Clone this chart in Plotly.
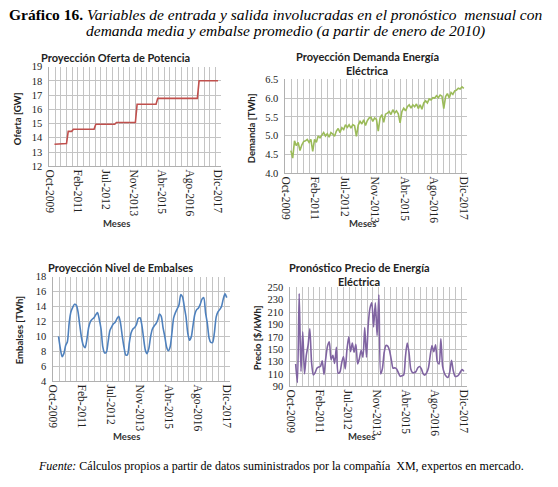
import plotly.graph_objects as go

# mes 0 = enero 2010 ... mes 95 = diciembre 2017
meses = list(range(96))

etiquetas_x = ["Oct-2009", "Feb-2011", "Jul-2012", "Nov-2013",
               "Abr-2015", "Ago-2016", "Dic-2017"]

oferta_gw = [
    13.55, 13.55, 13.55, 13.55, 13.6, 13.6, 13.6, 13.6, 14.45, 14.45, 14.45, 14.6,
    14.6, 14.6, 14.6, 14.6, 14.6, 14.6, 14.6, 14.6, 14.6, 14.6, 14.6, 14.6,
    14.95, 14.95, 14.95, 14.95, 14.95, 14.95, 14.95, 14.95, 14.95, 14.95, 14.95, 14.95,
    15.07, 15.07, 15.07, 15.07, 15.07, 15.07, 15.07, 15.07, 15.07, 15.07, 15.07, 15.07,
    16.35, 16.35, 16.35, 16.35, 16.35, 16.35, 16.35, 16.35, 16.35, 16.35, 16.35, 16.35,
    16.77, 16.77, 16.77, 16.77, 16.77, 16.77, 16.77, 16.77, 16.77, 16.77, 16.77, 16.77,
    16.77, 16.77, 16.77, 16.77, 16.77, 16.77, 16.77, 16.77, 16.77, 16.77, 16.77, 16.77,
    18.0, 18.0, 18.0, 18.0, 18.0, 18.0, 18.0, 18.0, 18.0, 18.0, 18.0, 18.0,
]

demanda_twh = [
    4.60, 4.40, 4.86, 4.73, 4.82, 4.60, 4.75, 4.84, 4.86, 4.90, 4.82, 4.90,
    4.58, 4.90, 4.82, 4.99, 4.94, 5.02, 5.08, 4.99, 5.05, 4.96, 5.08, 5.04,
    4.98, 5.12, 5.19, 5.08, 5.21, 5.16, 5.29, 5.22, 5.29, 5.20, 5.29, 5.26,
    4.98, 5.28, 5.38, 5.31, 5.42, 5.27, 5.40, 5.47, 5.49, 5.38, 5.47, 5.43,
    5.12, 5.47, 5.56, 5.35, 5.57, 5.60, 5.64, 5.56, 5.69, 5.60, 5.66, 5.58,
    5.34, 5.64, 5.73, 5.66, 5.77, 5.82, 5.73, 5.82, 5.77, 5.84, 5.72, 5.82,
    5.70, 5.87, 5.93, 5.87, 5.98, 5.95, 6.01, 6.00, 6.06, 6.01, 6.08, 6.05,
    5.72, 6.04, 6.12, 6.00, 6.15, 6.10, 6.19, 6.21, 6.26, 6.24, 6.30, 6.26,
]

embalses_twh = [
    10.0, 8.4, 7.3, 7.7, 8.8, 9.3, 11.8, 13.3, 13.9, 14.3, 14.2, 13.3,
    11.5, 9.8, 8.8, 8.5, 9.6, 11.2, 12.0, 12.3, 12.5, 12.9, 13.2, 12.3,
    11.0, 8.6, 7.8, 7.9, 9.3, 10.8, 11.3, 11.7, 11.9, 12.4, 12.7, 11.8,
    10.0, 8.5, 7.5, 7.6, 9.2, 10.5, 11.0, 11.2, 11.6, 12.4, 12.5, 11.6,
    9.8, 8.2, 7.7, 8.4, 10.0, 11.0, 11.4, 11.7, 12.2, 13.0, 12.7, 11.2,
    10.0, 8.6, 8.1, 8.6, 10.4, 12.5, 13.2, 13.7, 14.2, 15.6, 15.3, 14.0,
    12.6, 10.4, 9.5, 10.0, 11.6, 13.0, 13.6, 13.8, 14.3, 15.0, 15.2, 13.2,
    11.8, 9.8, 9.2, 9.2, 10.5, 12.6, 13.3, 13.6, 14.0, 15.0, 15.7, 15.2,
]

precio_kwh = [
    126, 96, 240, 114, 178, 110, 140, 156, 183, 128, 108, 112,
    119, 121, 122, 131, 109, 135, 155, 162, 133, 140, 127, 153,
    111, 113, 128, 138, 118, 150, 170, 146, 160, 145, 158, 126,
    135, 148, 137, 185, 137, 190, 217, 225, 186, 225, 172, 238,
    110, 119, 145, 156, 155, 148, 133, 119, 120, 118, 112, 106,
    107, 108, 138, 160, 145, 118, 112, 112, 114, 120, 122, 118,
    110, 108, 112, 120, 140, 156, 146, 157, 130, 126, 167, 122,
    111, 106, 104, 113, 132, 115, 106, 106, 108, 113, 117, 114,
]

W, H = 558, 487
GRID = "#c4c4c4"
SERIF = "Liberation Serif"
SANS = "Lato"

# caja del área de trazado en píxeles: (izq, der, arriba, abajo)
paneles = [
    dict(serie=oferta_gw, color="#C0504D", caja=(44, 219, 63, 165), rango=[12, 19], dtick=1,
         fmt="", forma="linear", titulo=["Proyección Oferta de Potencia"], tpos=(111, 54),
         ytitulo="Oferta [GW]", ypos=(12, 116), mpos=(112, 224)),
    dict(serie=demanda_twh, color="#9BBB59", caja=(284, 469, 76, 172), rango=[4, 6.5], dtick=0.5,
         fmt=".1f", forma="linear", titulo=["Proyección Demanda Energía", "Eléctrica"], tpos=(367, 53),
         ytitulo="Demanda [TWh]", ypos=(249, 126), mpos=(362, 224)),
    dict(serie=embalses_twh, color="#4F81BD", caja=(48, 228, 278, 385), rango=[4, 18], dtick=2,
         fmt="", forma="spline", titulo=["Proyección Nivel de Embalses"], tpos=(116, 269),
         ytitulo="Embalses [TWh]", ypos=(14, 333), mpos=(122, 441)),
    dict(serie=precio_kwh, color="#8064A2", caja=(289, 469, 289, 390), rango=[90, 250], dtick=20,
         fmt="", forma="spline", titulo=["Pronóstico Precio de Energía", "Eléctrica"], tpos=(359, 269),
         ytitulo="Precio [$/kWh]", ypos=(255, 340), mpos=(361, 441)),
]

x_ini, x_fin = -3, 97
pos_etiquetas = [x_ini + k * 98 / 6 for k in range(len(etiquetas_x))]
pos_rejilla = [x_ini + k * (x_fin - x_ini) / 30 for k in range(31)]

fig = go.Figure()
anotaciones = []


def px(x, y):
    return x / W, 1 - y / H


for i, p in enumerate(paneles, start=1):
    izq, der, arr, aba = p["caja"]
    sfx = "" if i == 1 else str(i)
    fig.add_trace(go.Scatter(
        x=meses, y=p["serie"], mode="lines",
        line=dict(color=p["color"], width=1.6, shape=p["forma"], smoothing=0.7),
        xaxis="x" + sfx, yaxis="y" + sfx, showlegend=False,
    ))
    fig.update_layout(**{
        "xaxis" + sfx: dict(
            domain=[izq / W, der / W], anchor="y" + sfx, range=[x_ini, x_fin],
            tickmode="array", tickvals=pos_etiquetas, ticktext=etiquetas_x,
            tickangle=90, tickfont=dict(family=SERIF, size=11.5, color="#222"),
            showgrid=False, zeroline=False, showline=True, linecolor="#b0b0b0", linewidth=1,
            minor=dict(tickmode="array", tickvals=pos_rejilla, showgrid=True,
                       gridcolor=GRID, gridwidth=1, ticks=""),
        ),
        "yaxis" + sfx: dict(
            domain=[1 - aba / H, 1 - arr / H], anchor="x" + sfx, range=p["rango"],
            dtick=p["dtick"], tick0=p["rango"][0], tickformat=p["fmt"],
            tickfont=dict(family=SERIF, size=10.5, color="#222"),
            showgrid=True, gridcolor=GRID, gridwidth=1, zeroline=False,
            showline=True, linecolor="#b0b0b0", linewidth=1,
            ticks="outside", ticklen=4, tickcolor="rgba(0,0,0,0)",
        ),
    })
    tx, ty = p["tpos"]
    for j, linea in enumerate(p["titulo"]):
        ax, ay = px(tx, ty + j * 14)
        anotaciones.append(dict(text="<b>" + linea + "</b>", x=ax, y=ay, xref="paper", yref="paper",
                                xanchor="center", yanchor="middle", showarrow=False,
                                font=dict(family=SANS, size=11, color="#222")))
    ax, ay = px(*p["ypos"])
    anotaciones.append(dict(text="<b>" + p["ytitulo"] + "</b>", x=ax, y=ay, xref="paper", yref="paper",
                            xanchor="center", yanchor="middle", showarrow=False, textangle=-90,
                            font=dict(family=SANS, size=9.5, color="#222")))
    ax, ay = px(*p["mpos"])
    anotaciones.append(dict(text="<b>Meses</b>", x=ax, y=ay, xref="paper", yref="paper",
                            xanchor="center", yanchor="middle", showarrow=False,
                            font=dict(family=SANS, size=9.5, color="#333")))

# encabezado y fuente
ax, ay = px(274, 10)
anotaciones.append(dict(
    text="<b>Gráfico 16.</b> <i>Variables de entrada y salida involucradas en el pronóstico  mensual con</i>",
    x=ax, y=ay, xref="paper", yref="paper", xanchor="center", yanchor="middle", showarrow=False,
    font=dict(family=SERIF, size=15.5, color="#000")))
ax, ay = px(284, 27)
anotaciones.append(dict(
    text="<i>demanda media y embalse promedio (a partir de enero de 2010)</i>",
    x=ax, y=ay, xref="paper", yref="paper", xanchor="center", yanchor="middle", showarrow=False,
    font=dict(family=SERIF, size=15.5, color="#000")))
ax, ay = px(280, 472)
anotaciones.append(dict(
    text="<i>Fuente:</i> Cálculos propios a partir de datos suministrados por la compañía  XM, expertos en mercado.",
    x=ax, y=ay, xref="paper", yref="paper", xanchor="center", yanchor="middle", showarrow=False,
    font=dict(family=SERIF, size=12, color="#000")))

fig.update_layout(
    width=W, height=H, autosize=False,
    margin=dict(l=0, r=0, t=0, b=0),
    paper_bgcolor="white", plot_bgcolor="white",
    annotations=anotaciones,
)

fig.write_html("out.html", config={"displayModeBar": False},
               post_script="document.body.style.margin='0';")
